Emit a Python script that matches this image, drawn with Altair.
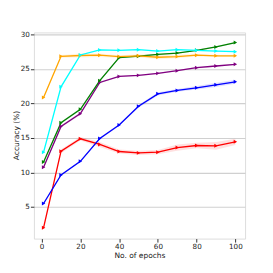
import altair as alt
import pandas as pd

epochs = [1, 10, 20, 30, 40, 50, 60, 70, 80, 90, 100]
series_names = ["red", "blue", "purple", "green", "orange", "cyan"]
series_colors = ["#FF0000", "#0000FF", "#800080", "#008000", "#FFA500", "#00FFFF"]

red = [1.98, 13.07, 14.87, 14.05, 13.03, 12.83, 12.93, 13.6, 13.9, 13.85, 14.44]
blue = [5.49, 9.62, 11.61, 14.92, 16.87, 19.59, 21.39, 21.88, 22.27, 22.7, 23.14]
purple = [10.74, 16.67, 18.52, 23.04, 23.92, 24.07, 24.36, 24.75, 25.18, 25.43, 25.67]
green = [11.52, 17.2, 19.15, 23.3, 26.64, 26.85, 27.1, 27.3, 27.7, 28.2, 28.83]
orange = [20.86, 26.84, 26.95, 27.0, 26.8, 26.9, 26.7, 26.8, 27.0, 26.9, 26.9]
cyan = [12.93, 22.41, 27.03, 27.76, 27.7, 27.8, 27.6, 27.8, 27.7, 27.6, 27.5]

red_err = [0.1, 0.3, 0.25, 0.35, 0.3, 0.3, 0.3, 0.45, 0.4, 0.55, 0.45]
blue_err = [0.1, 0.1, 0.15, 0.15, 0.15, 0.2, 0.25, 0.2, 0.25, 0.3, 0.3]
purple_err = [0.1, 0.15, 0.2, 0.15, 0.1, 0.1, 0.1, 0.1, 0.1, 0.1, 0.1]
green_err = [0.1, 0.15, 0.15, 0.15, 0.1, 0.1, 0.1, 0.1, 0.1, 0.1, 0.1]
orange_err = [0.1, 0.2, 0.3, 0.25, 0.2, 0.25, 0.3, 0.25, 0.2, 0.15, 0.15]
cyan_err = [0.1, 0.1, 0.1, 0.1, 0.1, 0.1, 0.1, 0.1, 0.1, 0.1, 0.1]

values = [red, blue, purple, green, orange, cyan]
errs = [red_err, blue_err, purple_err, green_err, orange_err, cyan_err]

rows = []
for k, (name, vals, er) in enumerate(zip(series_names, values, errs)):
    for x, v, e in zip(epochs, vals, er):
        rows.append({"series": name, "order": k, "epoch": x, "acc": v,
                     "lo": v - e, "hi": v + e})
df = pd.DataFrame(rows)

xs = alt.Scale(domain=[-4, 105], nice=False, zero=False)
ys = alt.Scale(domain=[0.4, 30.3], nice=False, zero=False)
color = alt.Color("series:N", scale=alt.Scale(domain=series_names, range=series_colors), legend=None)

base = alt.Chart(df)

band = base.mark_area(opacity=0.12).encode(
    x=alt.X("epoch:Q", scale=xs),
    y=alt.Y("lo:Q", scale=ys),
    y2="hi:Q",
    color=color,
    detail="series:N",
)

lines = base.mark_line(strokeWidth=1.3, point=alt.OverlayMarkDef(shape="triangle-right", size=16, filled=True, opacity=1)).encode(
    x=alt.X("epoch:Q", scale=xs,
            axis=alt.Axis(title="No. of epochs", values=[0, 20, 40, 60, 80, 100], grid=False,
                          labelFontSize=7.2, titleFontSize=7.5, titleFontWeight="normal",
                          tickColor="#333", domain=False, labelColor="#222", titleColor="#222",
                          tickSize=3.5, labelPadding=0, titlePadding=2, titleFont="DejaVu Sans", labelFont="DejaVu Sans")),
    y=alt.Y("acc:Q", scale=ys,
            axis=alt.Axis(title="Accuracy (%)", values=[5, 10, 15, 20, 25, 30], grid=True,
                          gridColor="#d0d0d0", gridWidth=1.2,
                          labelFontSize=7.2, titleFontSize=7.5, titleFontWeight="normal",
                          tickColor="#333", domain=False, labelColor="#222", titleColor="#222",
                          tickSize=3.5, labelPadding=1, titleX=-17, titleY=103, titleAngle=270,
                          titleAlign="center", titleBaseline="middle",
                          titleFont="DejaVu Sans", labelFont="DejaVu Sans")),
    color=color,
    order="epoch:Q",
    detail="series:N",
)

chart = alt.layer(band, lines).properties(
    width=212, height=207,
    autosize=alt.AutoSizeParams(type="none"),
    padding={"left": 26, "top": 24, "right": 20, "bottom": 26},
).configure_view(stroke="#555", strokeWidth=1).configure(background="white")

chart.save("out.html", embed_options={"renderer": "svg", "actions": False})
